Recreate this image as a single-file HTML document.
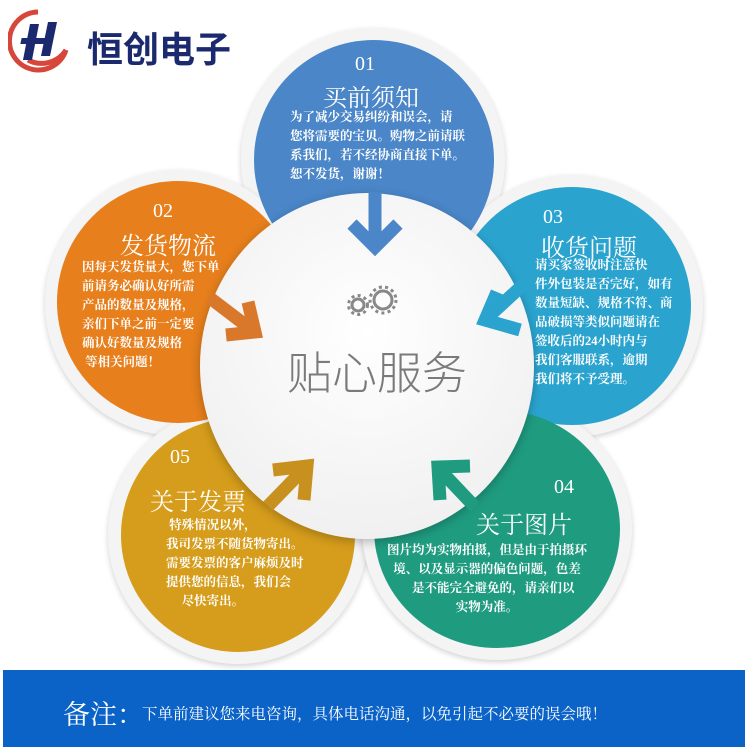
<!DOCTYPE html>
<html><head><meta charset="utf-8"><style>
body{margin:0;width:750px;height:750px;background:#fff;position:relative;overflow:hidden;font-family:"Liberation Serif","Noto Serif CJK SC",serif}
.c{position:absolute;border-radius:50%}
.ring{position:absolute;border-radius:50%;background:#f4f4f4;box-shadow:0 2px 6px rgba(0,0,0,.18)}
.t{position:absolute;color:#fff;text-align:center;white-space:nowrap}
.n{font-size:20px}
.h{font-size:24px}
.b{font-size:12.5px;font-weight:bold;line-height:19px}
</style></head><body>
<!-- logo -->
<svg style="position:absolute;left:8px;top:8px" width="68" height="66" viewBox="0 0 68 66">
<path d="M30 4 A29 29 0 1 0 58 42" fill="none" stroke="#d7463a" stroke-width="5"/>
<path d="M20 52 A29 29 0 0 0 58 42" fill="none" stroke="#d7463a" stroke-width="5"/>
<polygon points="22,16 31,16 24,52 15,52" fill="#1b2a6e"/>
<polygon points="40,14 49,14 42,48 33,48" fill="#1b2a6e"/>
<rect x="20" y="30" width="24" height="6" fill="#1b2a6e" transform="skewX(-12)"/>
</svg>
<div style="position:absolute;left:87px;top:21px;font:bold 36px 'Noto Sans CJK SC',sans-serif;color:#1b2a6e">恒创电子</div>

<!-- rings -->
<div class="ring" style="left:241px;top:28px;width:264px;height:264px"></div>
<div class="ring" style="left:45px;top:170px;width:266px;height:266px"></div>
<div class="ring" style="left:441px;top:175px;width:262px;height:262px"></div>
<div class="ring" style="left:108px;top:406px;width:260px;height:258px"></div>
<div class="ring" style="left:362px;top:398px;width:270px;height:262px"></div>
<div class="c" style="left:254px;top:40px;width:240px;height:240px;background:#4a86c8"></div>
<div class="c" style="left:57px;top:181px;width:242px;height:242px;background:#e67f1c"></div>
<div class="c" style="left:453px;top:187px;width:238px;height:238px;background:#2aa4cf"></div>
<div class="c" style="left:121px;top:418px;width:234px;height:234px;background:#d69d1c"></div>
<div class="c" style="left:374px;top:410px;width:246px;height:238px;background:#1f9c80"></div>

<!-- center -->
<div class="c" style="left:200px;top:193px;width:334px;height:346px;background:radial-gradient(circle at 50% 40%,#fff,#ececec);box-shadow:0 3px 10px rgba(0,0,0,.25)"></div>

<!-- texts -->
<div class="t n" style="left:355px;top:53px">01</div>
<div class="t h" style="left:323px;top:78px">买前须知</div>
<div class="t b" style="left:290px;top:108px;text-align:left">为了减少交易纠纷和误会，请<br>您将需要的宝贝。购物之前请联<br>系我们，若不经协商直接下单。<br>恕不发货，谢谢！</div>

<div class="t n" style="left:153px;top:200px">02</div>
<div class="t h" style="left:120px;top:226px">发货物流</div>
<div class="t b" style="left:82px;top:258px;text-align:left">因每天发货量大，您下单<br>前请务必确认好所需<br>产品的数量及规格，<br>亲们下单之前一定要<br>确认好数量及规格<br>&nbsp;等相关问题！</div>

<div class="t n" style="left:543px;top:206px">03</div>
<div class="t h" style="left:541px;top:228px">收货问题</div>
<div class="t b" style="left:535px;top:256px;text-align:left">请买家签收时注意快<br>件外包装是否完好，如有<br>数量短缺、规格不符、商<br>品破损等类似问题请在<br>签收后的24小时内与<br>我们客服联系，逾期<br>我们将不予受理。</div>

<div class="t n" style="left:170px;top:446px">05</div>
<div class="t h" style="left:150px;top:482px">关于发票</div>
<div class="t b" style="left:166px;top:516px;text-align:left">&nbsp;特殊情况以外，<br>我司发票不随货物寄出。<br>需要发票的客户麻烦及时<br>提供您的信息，我们会<br>&nbsp;&nbsp;&nbsp;&nbsp;&nbsp;尽快寄出。</div>

<div class="t n" style="left:554px;top:476px">04</div>
<div class="t h" style="left:476px;top:505px">关于图片</div>
<div class="t b" style="left:387px;top:541px;text-align:center">图片均为实物拍摄，但是由于拍摄环<br>境、以及显示器的偏色问题，色差<br>&nbsp;&nbsp;&nbsp;&nbsp;是不能完全避免的，请亲们以<br>实物为准。</div>

<!-- arrows -->
<svg style="position:absolute;left:0;top:0" width="750" height="750">
<g stroke-linecap="butt" fill="none" stroke-width="13">
<path d="M375 192 V244 M352 224 L375 247 L398 224" stroke="#4a86c8"/>
<path d="M210 298 L252 330 M226 335 L255 332 L248 302" stroke="#d9782a"/>
<path d="M525 283 L487 318 M520 330 L485 320 L497 292" stroke="#2aa4cf"/>
<path d="M268 506 L305 468 M273 470 L307 466 L304 500" stroke="#c8901e"/>
<path d="M475 507 L440 470 M470 466 L438 467 L440 500" stroke="#1f9c80"/>
</g>
<g fill="none" stroke="#888" stroke-width="3">
<circle cx="358" cy="305" r="6"/><circle cx="383" cy="300" r="9"/>
</g>
<g stroke="#888" stroke-width="3" stroke-dasharray="3 3.3">
<circle cx="358" cy="305" r="9.5" fill="none"/><circle cx="383" cy="300" r="13" fill="none"/>
</g>
</svg>
<div style="position:absolute;left:287px;top:337px;font-size:45px;color:#7a7a7a;font-family:'Noto Sans CJK SC',sans-serif;font-weight:300">贴心服务</div>

<!-- banner -->
<div style="position:absolute;left:3px;top:670px;width:742px;height:77px;background:#0b63c8"></div>
<div style="position:absolute;left:63px;top:693px;color:#fff;font-size:27px">备注：</div>
<div style="position:absolute;left:142px;top:702px;color:#fff;font-size:15.5px;white-space:nowrap">下单前建议您来电咨询，具体电话沟通，以免引起不必要的误会哦！</div>
</body></html>
